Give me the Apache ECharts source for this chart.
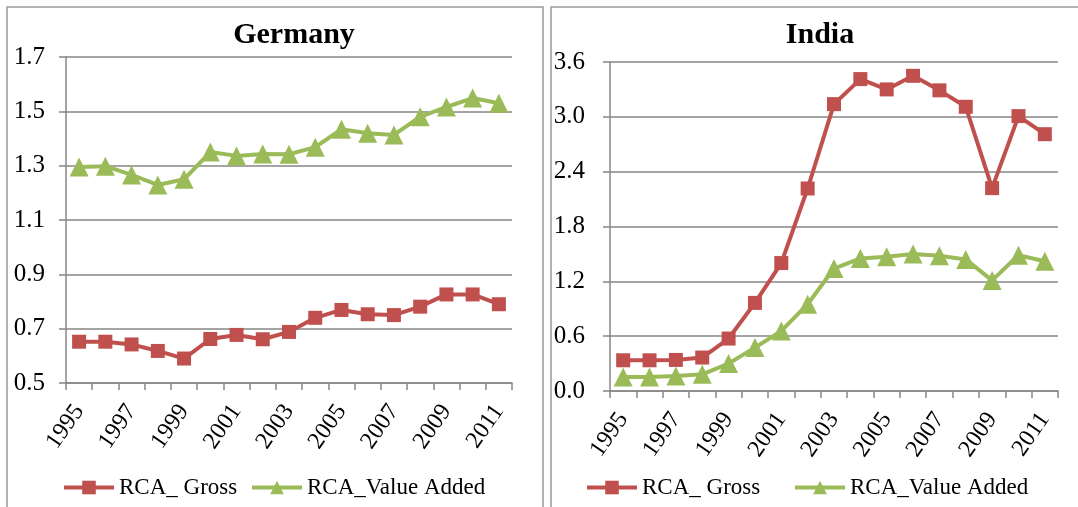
<!DOCTYPE html>
<html><head><meta charset="utf-8">
<script src="https://cdn.jsdelivr.net/npm/echarts@6/dist/echarts.min.js"></script>
<style>html,body{margin:0;padding:0;background:#fff}#c{width:1078px;height:507px}</style>
</head><body><div id="c"></div>
<script>
const years = ['1995','1996','1997','1998','1999','2000','2001','2002','2003','2004','2005','2006','2007','2008','2009','2010','2011'];
const germanyGross = [0.652,0.652,0.642,0.618,0.590,0.662,0.677,0.661,0.688,0.740,0.769,0.753,0.750,0.781,0.826,0.826,0.790];
const germanyVA    = [1.295,1.298,1.266,1.229,1.250,1.350,1.336,1.343,1.342,1.368,1.434,1.419,1.413,1.480,1.516,1.549,1.530];
const indiaGross   = [0.336,0.336,0.340,0.366,0.574,0.964,1.400,2.216,3.139,3.413,3.300,3.449,3.290,3.110,2.220,3.008,2.810];
const indiaVA      = [0.153,0.153,0.164,0.183,0.300,0.475,0.657,0.949,1.340,1.450,1.470,1.500,1.480,1.440,1.210,1.486,1.420];
const titles = ['Germany','India'];
const seriesNames = ['RCA_ Gross','RCA_Value Added'];

const FONT = '"Liberation Serif","Times New Roman",serif';
const GRAY = '#868686';
const RED = '#C0504D';
const GREEN = '#9BBB59';

function xAxis(gi){
  return {
    type:'category', gridIndex:gi, data:years, boundaryGap:true,
    axisLine:{show:true,lineStyle:{color:GRAY,width:1.5}},
    axisTick:{show:true,interval:0,length:7,lineStyle:{color:GRAY,width:1.5}},
    axisLabel:{interval:1,rotate:55,margin:24,color:'#000',fontFamily:FONT,fontSize:24},
    splitLine:{show:false}
  };
}
function yAxis(gi,min,max,interval,margin){
  return {
    type:'value', gridIndex:gi, min:min, max:max, interval:interval,
    axisLine:{show:true,lineStyle:{color:GRAY,width:1.5}},
    axisTick:{show:true,length:7,lineStyle:{color:GRAY,width:1.5}},
    axisLabel:{margin:margin,color:'#000',fontFamily:FONT,fontSize:25,formatter:v=>v.toFixed(1)},
    splitLine:{show:true,lineStyle:{color:GRAY,width:1.5}}
  };
}
function lineSeries(name,gi,data,color,symbol,size){
  return {
    name:name, type:'line', xAxisIndex:gi, yAxisIndex:gi, data:data,
    symbol:symbol, symbolSize:size, showAllSymbol:true,
    itemStyle:{color:color}, lineStyle:{color:color,width:4},
    emphasis:{disabled:true}, animation:false
  };
}
function legend(name,left){
  return {
    data:[name], left:left, top:476, itemWidth:50, itemHeight:17, itemGap:0, padding:0,
    lineStyle:{width:4},
    textStyle:{color:'#000',fontFamily:FONT,fontSize:23}, selectedMode:false
  };
}

const chart = echarts.init(document.getElementById('c'),null,{renderer:'canvas'});
chart.setOption({
  animation:false,
  title:[
    {text:titles[0],left:289,top:15,textAlign:'center',textStyle:{fontFamily:FONT,fontSize:30,fontWeight:'bold',color:'#000'}},
    {text:titles[1],left:815,top:15,textAlign:'center',textStyle:{fontFamily:FONT,fontSize:30,fontWeight:'bold',color:'#000'}}
  ],
  graphic:[
    {type:'rect',shape:{x:7,y:7,width:536,height:520},style:{fill:'none',stroke:'#9a9a9a',lineWidth:1.5},silent:true},
    {type:'rect',shape:{x:551,y:7,width:540,height:520},style:{fill:'none',stroke:'#9a9a9a',lineWidth:1.5},silent:true}
  ],
  legend:[
    legend(seriesNames[0],62), legend(seriesNames[1],250),
    legend(seriesNames[0],585), legend(seriesNames[1],793)
  ],
  grid:[
    {left:66,top:57,width:446,height:326},
    {left:610,top:62,width:448,height:329}
  ],
  xAxis:[xAxis(0),xAxis(1)],
  yAxis:[yAxis(0,0.5,1.7,0.2,21),yAxis(1,0,3.6,0.6,25)],
  series:[
    lineSeries(seriesNames[0],0,germanyGross,RED,'rect',14),
    lineSeries(seriesNames[1],0,germanyVA,GREEN,'triangle',19),
    lineSeries(seriesNames[0],1,indiaGross,RED,'rect',14),
    lineSeries(seriesNames[1],1,indiaVA,GREEN,'triangle',19)
  ]
});
</script></body></html>
